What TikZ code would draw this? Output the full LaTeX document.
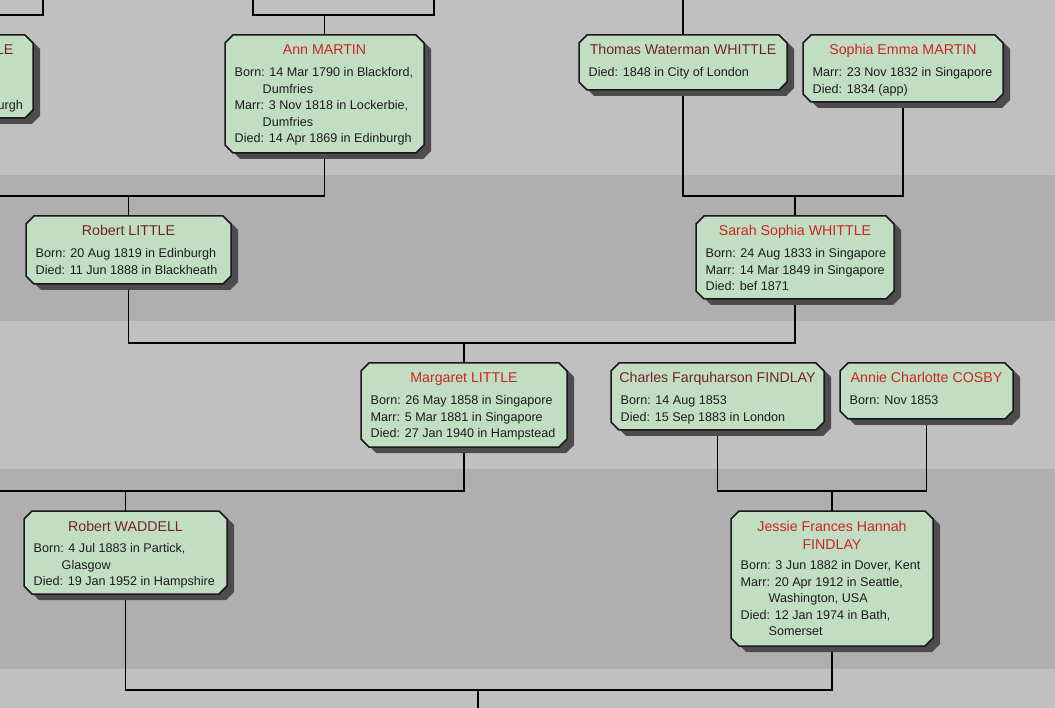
\documentclass[tikz,border=0pt]{standalone}
\usepackage{fontspec}
\setmainfont{Liberation Sans}
\usetikzlibrary{calc}
\definecolor{bandA}{HTML}{C0C0C0}
\definecolor{bandB}{HTML}{AFAFAF}
\definecolor{cardfill}{HTML}{C2DEC2}
\definecolor{cardshade}{HTML}{4C4C4C}
\definecolor{maletxt}{HTML}{73202E}
\definecolor{femtxt}{HTML}{CC2424}
\definecolor{bodytxt}{HTML}{1C1C1C}
\tikzset{
  slot/.style={rectangle, draw=none, inner sep=0pt, outer sep=0pt},
  conn/.style={draw=black, line width=1.3pt},
  cardedge/.style={draw=black!90, line width=1.5pt, fill=cardfill, line join=miter},
  cardshadow/.style={fill=cardshade},
  ttl/.style={font=\fontsize{14.2}{16}\selectfont, anchor=base, inner sep=0pt},
  male/.style={ttl, text=maletxt},
  female/.style={ttl, text=femtxt},
  inf/.style={font=\fontsize{12.6}{15}\selectfont, anchor=base west, inner sep=0pt, text=bodytxt},
}
\newcommand\famcard[1]{%
  \fill[cardshadow] ($(#1.north west)+(15,6)$) -- ($(#1.north east)+(-1,6)$) -- ($(#1.north east)+(7,14)$) -- ($(#1.south east)+(7,-2)$) -- ($(#1.south east)+(-1,6)$) -- ($(#1.south west)+(15,6)$) -- ($(#1.south west)+(7,-2)$) -- ($(#1.north west)+(7,14)$) -- cycle;
  \path[cardedge] ($(#1.north west)+(8,0)$) -- ($(#1.north east)+(-8,0)$) -- ($(#1.north east)+(0,8)$) -- ($(#1.south east)+(0,-8)$) -- ($(#1.south east)+(-8,0)$) -- ($(#1.south west)+(8,0)$) -- ($(#1.south west)+(0,-8)$) -- ($(#1.north west)+(0,8)$) -- cycle;}
\newcommand\famline[5][41.5]{\node[inf] (#2-#3) at ($(#2.north west)+({9.5+#4},{#1+16.6*#3})$) {#5};}
\newcommand\famtitle[3]{\node[#2] (#1-t) at ($(#1.north)+(0,20)$) {#3};}
\begin{document}
\begin{tikzpicture}[x=1pt,y=-1pt]
\useasboundingbox (0,0) rectangle (1055,708);
\clip (0,0) rectangle (1055,708);
% background bands
\fill[bandA] (0,0) rectangle (1055,175);
\fill[bandB] (0,175) rectangle (1055,321);
\fill[bandA] (0,321) rectangle (1055,469);
\fill[bandB] (0,469) rectangle (1055,669);
\fill[bandA] (0,669) rectangle (1055,708);
% person slots
\node[slot, minimum width=193pt, minimum height=83pt] (tl) at (-63.5,76.5) {};
\node[slot, minimum width=199pt, minimum height=118pt] (ann) at (324.5,94) {};
\node[slot, minimum width=208pt, minimum height=55pt] (tw) at (683,62.5) {};
\node[slot, minimum width=200pt, minimum height=67pt] (sm) at (903,68.5) {};
\node[slot, minimum width=198pt, minimum height=83pt] (ssw) at (795,257.5) {};
\node[slot, minimum width=205pt, minimum height=68pt] (rl) at (128.5,250) {};
\node[slot, minimum width=206pt, minimum height=84pt] (ml) at (464,405) {};
\node[slot, minimum width=213pt, minimum height=67pt] (cf) at (717.5,396.5) {};
\node[slot, minimum width=173pt, minimum height=56pt] (ac) at (926.5,391) {};
\node[slot, minimum width=202pt, minimum height=135pt] (jf) at (832,578.5) {};
\node[slot, minimum width=203pt, minimum height=83pt] (rw) at (125.5,552.5) {};
% junction coordinates
\coordinate (h0) at (0,15);
\coordinate (h1) at (43,0);
\coordinate (g1) at (253,0);
\coordinate (g2) at (434,0);
\coordinate (j0) at (324.5,15);
\coordinate (twup) at (683,0);
\coordinate (l0) at (0,196);
\coordinate (j2) at (795,196);
\coordinate (j3) at (464,343);
\coordinate (k0) at (0,491);
\coordinate (j4) at (832,491);
\coordinate (j5) at (478,690);
\coordinate (b0) at (478,708);
% connectors
\draw[conn] (h0) -| (h1);
\draw[conn] (g1) |- (j0) -| (g2);
\draw[conn] (j0) -- (ann.north);
\draw[conn] (tw.north) -- (twup);
\draw[conn] (l0) -| (ann.south);
\draw[conn] (rl.north) -- (rl.north |- l0);
\draw[conn] (tw.south) |- (j2) -| (sm.south);
\draw[conn] (j2) -- (ssw.north);
\draw[conn] (rl.south) |- (j3) -| (ssw.south);
\draw[conn] (j3) -- (ml.north);
\draw[conn] (k0) -| (ml.south);
\draw[conn] (rw.north) -- (rw.north |- k0);
\draw[conn] (cf.south) |- (j4) -| (ac.south);
\draw[conn] (j4) -- (jf.north);
\draw[conn] (rw.south) |- (j5) -| (jf.south);
\draw[conn] (j5) -- (b0);
% cards
\famcard{tl}
\famcard{ann}
\famcard{tw}
\famcard{sm}
\famcard{ssw}
\famcard{rl}
\famcard{ml}
\famcard{cf}
\famcard{ac}
\famcard{jf}
\famcard{rw}
% texts
\node[male, anchor=base east] (tl-t) at (13.5,55) {LE};
\node[inf, anchor=base east] (tl-2) at (23,109.5) {urgh};

\famtitle{ann}{female}{Ann MARTIN}
\famline{ann}{0}{0}{Born: 14 Mar 1790 in Blackford,}
\famline{ann}{1}{28}{Dumfries}
\famline{ann}{2}{0}{Marr: 3 Nov 1818 in Lockerbie,}
\famline{ann}{3}{28}{Dumfries}
\famline{ann}{4}{0}{Died: 14 Apr 1869 in Edinburgh}

\famtitle{tw}{male}{Thomas Waterman WHITTLE}
\famline{tw}{0}{0}{Died: 1848 in City of London}

\famtitle{sm}{female}{Sophia Emma MARTIN}
\famline{sm}{0}{0}{Marr: 23 Nov 1832 in Singapore}
\famline{sm}{1}{0}{Died: 1834 (app)}

\famtitle{ssw}{female}{Sarah Sophia WHITTLE}
\famline{ssw}{0}{0}{Born: 24 Aug 1833 in Singapore}
\famline{ssw}{1}{0}{Marr: 14 Mar 1849 in Singapore}
\famline{ssw}{2}{0}{Died: bef 1871}

\famtitle{rl}{male}{Robert LITTLE}
\famline{rl}{0}{0}{Born: 20 Aug 1819 in Edinburgh}
\famline{rl}{1}{0}{Died: 11 Jun 1888 in Blackheath}

\famtitle{ml}{female}{Margaret LITTLE}
\famline{ml}{0}{0}{Born: 26 May 1858 in Singapore}
\famline{ml}{1}{0}{Marr: 5 Mar 1881 in Singapore}
\famline{ml}{2}{0}{Died: 27 Jan 1940 in Hampstead}

\famtitle{cf}{male}{Charles Farquharson FINDLAY}
\famline{cf}{0}{0}{Born: 14 Aug 1853}
\famline{cf}{1}{0}{Died: 15 Sep 1883 in London}

\famtitle{ac}{female}{Annie Charlotte COSBY}
\famline{ac}{0}{0}{Born: Nov 1853}

\node[female] (jf-t) at ($(jf.north)+(0,20)$) {Jessie Frances Hannah};
\node[female] (jf-u) at ($(jf.north)+(0,38)$) {FINDLAY};
\famline[58.5]{jf}{0}{0}{Born: 3 Jun 1882 in Dover, Kent}
\famline[58.5]{jf}{1}{0}{Marr: 20 Apr 1912 in Seattle,}
\famline[58.5]{jf}{2}{28}{Washington, USA}
\famline[58.5]{jf}{3}{0}{Died: 12 Jan 1974 in Bath,}
\famline[58.5]{jf}{4}{28}{Somerset}

\famtitle{rw}{male}{Robert WADDELL}
\famline{rw}{0}{0}{Born: 4 Jul 1883 in Partick,}
\famline{rw}{1}{28}{Glasgow}
\famline{rw}{2}{0}{Died: 19 Jan 1952 in Hampshire}
\end{tikzpicture}
\end{document}
